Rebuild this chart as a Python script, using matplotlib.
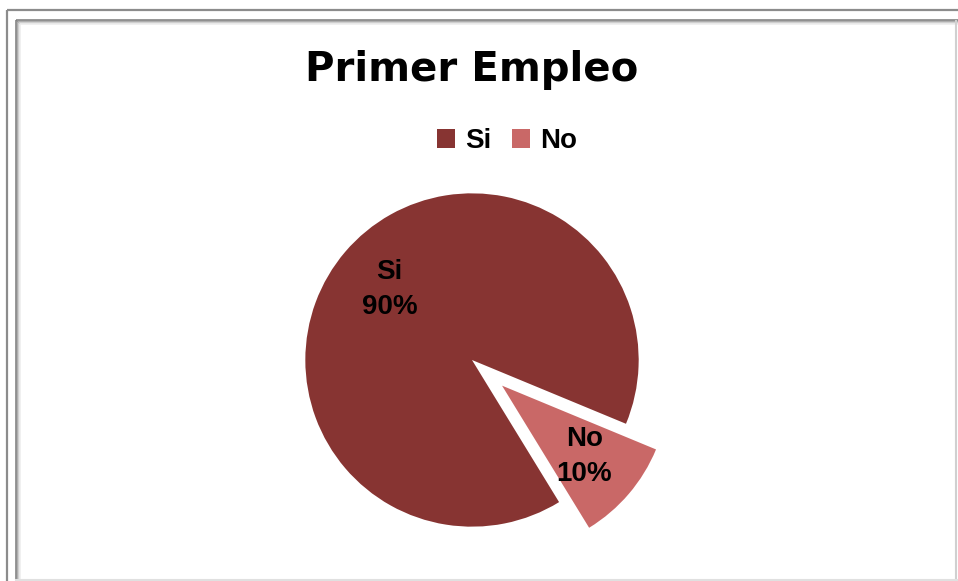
import matplotlib
matplotlib.use("Agg")
import matplotlib.pyplot as plt
from matplotlib.patches import Patch
import numpy as np

plt.rcParams['font.family'] = ['Liberation Sans', 'DejaVu Sans']

# Data
labels = ["Si", "No"]
values = [90, 10]
colors = ["#873432", "#C96867"]
explode = [0.0, 0.237]
title = "Primer Empleo"

W, H = 958, 581
fig = plt.figure(figsize=(W / 100, H / 100), dpi=100)
fig.patch.set_facecolor("white")

# Frame drawn in pixel coordinates
frame = fig.add_axes([0, 0, 1, 1])
frame.set_xlim(0, W)
frame.set_ylim(H, 0)
frame.axis("off")
# outer thin border
frame.plot([7.5, W], [9.5, 9.5], color="#8c8c8c", lw=1.6, solid_capstyle="butt")
frame.plot([7.5, 7.5], [9.5, H], color="#8c8c8c", lw=1.6, solid_capstyle="butt")
# inner border with soft shadow
for off, c in [(0, "#7a7a7a"), (1, "#8e8e8e"), (2, "#b0b0b0"), (3, "#d4d4d4"), (4, "#ececec")]:
    frame.plot([16 + off, W], [19.5 + off, 19.5 + off], color=c, lw=1.1, solid_capstyle="butt")
    frame.plot([16 + off, 16 + off], [19.5 + off, H], color=c, lw=1.1, solid_capstyle="butt")
frame.plot([W - 1.5, W - 1.5], [21, H], color="#d0d0d0", lw=1.5)
frame.plot([16, W], [H - 1.5, H - 1.5], color="#e0e0e0", lw=1.5)

# Pie
cx, cy, half = 472, 360, 250
ax = fig.add_axes([(cx - half) / W, (H - cy - half) / H, 2 * half / W, 2 * half / H])
wedges, _ = ax.pie(values, colors=colors, explode=explode, startangle=-22.5,
                   counterclock=True, radius=1.0,
                   wedgeprops=dict(linewidth=0))
ax.set_xlim(-1.5, 1.5)
ax.set_ylim(-1.5, 1.5)
ax.set_aspect("equal")
ax.axis("off")

total = sum(values)
for w, lab, v in zip(wedges, labels, values):
    mid = np.deg2rad((w.theta1 + w.theta2) / 2)
    x0, y0 = w.center
    r = 0.65
    ax.text(x0 + r * np.cos(mid), y0 + r * np.sin(mid),
            f"{lab}\n{round(100 * v / total)}%",
            ha="center", va="center", fontsize=20, fontweight="bold",
            color="black", linespacing=1.45)

fig.text(472 / W, 1 - 70 / H, title, ha="center", va="center",
         fontsize=29, fontweight="bold", family="DejaVu Sans")

handles = [Patch(facecolor=c, edgecolor="none") for c in colors]
fig.legend(handles, labels, loc="center", bbox_to_anchor=(507 / W, 1 - 141 / H),
           ncol=2, frameon=False, handlelength=0.65, handleheight=0.65,
           handletextpad=0.35, columnspacing=0.75,
           prop=dict(size=20, weight="bold"))

fig.savefig("out.png", dpi=100, facecolor="white")
